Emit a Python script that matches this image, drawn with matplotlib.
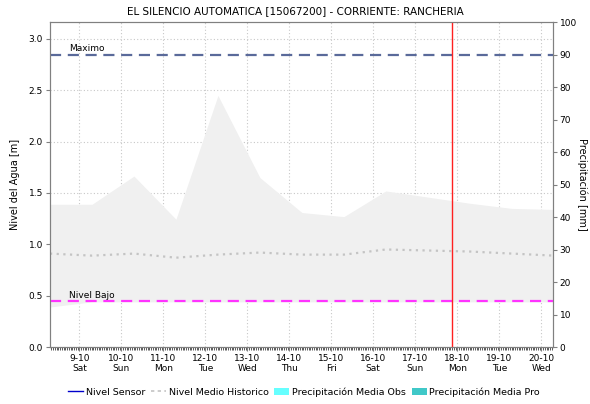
import matplotlib
matplotlib.use("Agg")
import matplotlib.pyplot as plt
import matplotlib.dates as mdates
from matplotlib.lines import Line2D
from matplotlib.patches import Patch
import pandas as pd

plt.rcParams['font.family'] = ['DejaVu Sans']

# daily readings (around 07:12 each day)
fechas = pd.date_range('2021-10-08 07:12', periods=13, freq='D')
banda_sup = [1.39, 1.39, 1.665, 1.245, 2.45, 1.65, 1.31, 1.27, 1.52, 1.46, 1.40, 1.35, 1.34]
banda_inf = [0.39, 0.44, 0.44, 0.44, 0.44, 0.44, 0.44, 0.44, 0.44, 0.44, 0.44, 0.44, 0.44]
medio_hist = [0.91, 0.89, 0.91, 0.87, 0.90, 0.92, 0.90, 0.90, 0.95, 0.94, 0.93, 0.91, 0.89]

nivel_max = 2.84
nivel_bajo = 0.445
ahora = pd.Timestamp('2021-10-17 21:00')

dias = pd.date_range('2021-10-09', '2021-10-20', freq='D')
etiquetas = ['9-10\nSat', '10-10\nSun', '11-10\nMon', '12-10\nTue', '13-10\nWed', '14-10\nThu',
             '15-10\nFri', '16-10\nSat', '17-10\nSun', '18-10\nMon', '19-10\nTue', '20-10\nWed']

fig = plt.figure(figsize=(5.9, 4.04), dpi=100)
ax = fig.add_axes([0.0847, 0.141, 0.852, 0.8045])

ax.fill_between(fechas, banda_inf, banda_sup, color='#f0f0f0', lw=0, zorder=1)
ax.plot(fechas, medio_hist, color='#c4c4c4', lw=1.6, ls=(0, (1, 2)), zorder=2)

ax.axhline(nivel_max, color='#5a6a9a', lw=1.6, ls=(0, (5, 3)), zorder=3)
ax.axhline(nivel_bajo, color='#ff33ff', lw=1.6, ls=(0, (5, 3)), zorder=3)
ax.text(pd.Timestamp('2021-10-08 18:00'), nivel_max + 0.02, 'Maximo', fontsize=6.5, va='bottom')
ax.text(pd.Timestamp('2021-10-08 18:00'), nivel_bajo + 0.01, 'Nivel Bajo', fontsize=6.5, va='bottom')
ax.axvline(ahora, color='#ff2020', lw=1.0, zorder=4)

ax.set_xlim(pd.Timestamp('2021-10-08 07:12'), pd.Timestamp('2021-10-20 06:30'))
ax.set_ylim(0, 3.165)
ax.set_yticks([0.0, 0.5, 1.0, 1.5, 2.0, 2.5, 3.0])
ax.set_xticks(dias)
ax.set_xticklabels(etiquetas)
ax.xaxis.set_minor_locator(mdates.HourLocator())
ax.tick_params(axis='x', which='minor', length=2, width=0.6, color='#404040')
ax.tick_params(axis='both', which='major', labelsize=6.5, length=3, color='#808080', pad=2)
ax.grid(True, color='#c8c8c8', ls=(0, (1, 2)), lw=0.8)
ax.set_axisbelow(True)
ax.set_ylabel('Nivel del Agua [m]', fontsize=7, labelpad=6)
for s in ax.spines.values():
    s.set_color('#808080')
    s.set_linewidth(0.8)

ax2 = ax.twinx()
ax2.set_ylim(0, 100)
ax2.set_yticks(range(0, 101, 10))
ax2.tick_params(labelsize=6.5, length=3, color='#808080', pad=2)
ax2.set_ylabel('Precipitación [mm]', fontsize=7, rotation=270, labelpad=8)
for s in ax2.spines.values():
    s.set_color('#808080')
    s.set_linewidth(0.8)

fig.suptitle('EL SILENCIO AUTOMATICA [15067200] - CORRIENTE: RANCHERIA', fontsize=7.5, y=0.985)

handles = [
    Line2D([], [], color='#0000cc', lw=1.0),
    Line2D([], [], color='#c4c4c4', lw=1.2, ls=(0, (2, 2))),
    Patch(facecolor='#66ffff', edgecolor='none'),
    Patch(facecolor='#40c8c8', edgecolor='none'),
]
nombres = ['Nivel Sensor', 'Nivel Medio Historico', 'Precipitación Media Obs', 'Precipitación Media Pro']
fig.legend(handles, nombres, loc='center', bbox_to_anchor=(0.515, 0.03), ncol=4, frameon=False,
           fontsize=6.8, handlelength=1.6, handletextpad=0.3, columnspacing=0.6)

fig.savefig('out.png', dpi=100)
